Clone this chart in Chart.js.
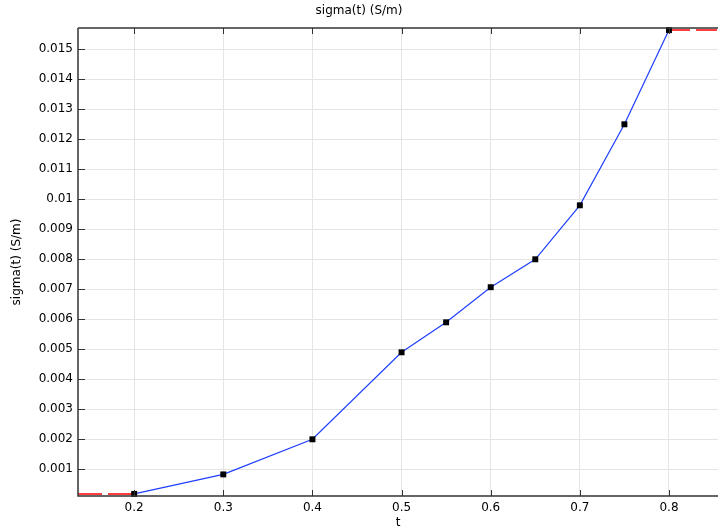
<!DOCTYPE html>
<html>
<head>
<meta charset="utf-8">
<script src="https://cdn.jsdelivr.net/npm/chart.js@4/dist/chart.umd.min.js"></script>
<style>
  html, body { margin: 0; padding: 0; background: #fff; }
  canvas { display: block; }
</style>
</head>
<body>
<canvas id="sigmaChart" width="718" height="527"></canvas>
<script>
// Data
const tValues = [0.2, 0.3, 0.4, 0.5, 0.55, 0.6, 0.65, 0.7, 0.75, 0.8];
const sigmaValues = [0.00018, 0.00083, 0.002, 0.0049, 0.0059, 0.00707, 0.008, 0.0098, 0.0125, 0.01564];
const xTicks = [0.2, 0.3, 0.4, 0.5, 0.6, 0.7, 0.8];
const xTickLabels = ['0.2', '0.3', '0.4', '0.5', '0.6', '0.7', '0.8'];
const yTicks = [0.001, 0.002, 0.003, 0.004, 0.005, 0.006, 0.007, 0.008, 0.009, 0.01, 0.011, 0.012, 0.013, 0.014, 0.015];
const yTickLabels = ['0.001', '0.002', '0.003', '0.004', '0.005', '0.006', '0.007', '0.008', '0.009', '0.01', '0.011', '0.012', '0.013', '0.014', '0.015'];
const xRange = [0.137, 0.855];
const yRange = [0.00011, 0.01571];

const FONT = 'DejaVu Sans';

// constant extrapolation outside the data range (red dashed)
const lastIdx = tValues.length - 1;
const leftExtrap = [{ x: xRange[0], y: sigmaValues[0] }, { x: tValues[0], y: sigmaValues[0] }];
const rightExtrap = [{ x: tValues[lastIdx], y: sigmaValues[lastIdx] }, { x: xRange[1], y: sigmaValues[lastIdx] }];

// frame and inward ticks, COMSOL style
const framePlugin = {
    id: 'frame',
    afterDatasetsDraw(chart) {
        const { ctx, chartArea: a, scales } = chart;
        ctx.save();
        ctx.strokeStyle = '#333';
        ctx.lineWidth = 1.5;
        ctx.beginPath();
        ctx.moveTo(a.left, a.top);
        ctx.lineTo(a.right, a.top);
        ctx.moveTo(a.left, a.top);
        ctx.lineTo(a.left, a.bottom);
        ctx.lineTo(a.right, a.bottom);
        ctx.stroke();

        ctx.lineWidth = 1;
        ctx.beginPath();
        xTicks.forEach(v => {
            const px = Math.round(scales.x.getPixelForValue(v)) + 0.5;
            ctx.moveTo(px, a.bottom);
            ctx.lineTo(px, a.bottom - 6);
            ctx.moveTo(px, a.top);
            ctx.lineTo(px, a.top + 6);
        });
        yTicks.forEach(v => {
            const py = Math.round(scales.y.getPixelForValue(v)) + 0.5;
            ctx.moveTo(a.left, py);
            ctx.lineTo(a.left + 7, py);
        });
        ctx.stroke();
        ctx.restore();
    }
};

new Chart(document.getElementById('sigmaChart'), {
    type: 'line',
    data: {
        datasets: [
            {
                data: tValues.map((t, i) => ({ x: t, y: sigmaValues[i] })),
                borderColor: '#1f3fff',
                borderWidth: 1.2,
                pointStyle: 'rect',
                pointRadius: 4.2,
                pointBackgroundColor: '#000',
                pointBorderWidth: 0,
                tension: 0,
                clip: false
            },
            {
                data: leftExtrap,
                borderColor: '#ff0000',
                borderWidth: 1.5,
                borderDash: [24, 6],
                pointRadius: 0
            },
            {
                data: rightExtrap,
                borderColor: '#ff0000',
                borderWidth: 1.5,
                borderDash: [21, 6],
                pointRadius: 0
            }
        ]
    },
    options: {
        responsive: false,
        animation: false,
        layout: { autoPadding: false, padding: { left: 0, right: 0, top: 0, bottom: 0 } },
        plugins: {
            legend: { display: false },
            tooltip: { enabled: false },
            title: {
                display: true,
                text: 'sigma(t) (S/m)',
                color: '#000',
                font: { family: FONT, size: 12, weight: 'normal' },
                padding: { top: 4, bottom: 9.6 }
            }
        },
        scales: {
            x: {
                type: 'linear',
                min: xRange[0],
                max: xRange[1],
                afterBuildTicks: s => { s.ticks = xTicks.map(v => ({ value: v })); },
                afterFit: s => { s.height = 31; s.paddingLeft = 0; s.paddingRight = 0; },
                ticks: {
                    color: '#000',
                    font: { family: FONT, size: 12 },
                    padding: 5,
                    maxRotation: 0,
                    callback: (v) => xTickLabels[xTicks.indexOf(v)]
                },
                grid: { color: '#e4e4e4', lineWidth: 1, drawTicks: false },
                border: { display: false },
                title: {
                    display: true,
                    text: 't',
                    color: '#000',
                    font: { family: FONT, size: 12 },
                    padding: { top: -3, bottom: -3 }
                }
            },
            y: {
                type: 'linear',
                min: yRange[0],
                max: yRange[1],
                afterBuildTicks: s => { s.ticks = yTicks.map(v => ({ value: v })); },
                afterFit: s => { s.width = 78; s.paddingTop = 0; s.paddingBottom = 0; },
                ticks: {
                    color: '#000',
                    font: { family: FONT, size: 12 },
                    padding: 5,
                    callback: (v) => yTickLabels[yTicks.indexOf(v)]
                },
                grid: { color: '#e4e4e4', lineWidth: 1, drawTicks: false },
                border: { display: false },
                title: {
                    display: true,
                    text: 'sigma(t) (S/m)',
                    color: '#000',
                    font: { family: FONT, size: 12 },
                    padding: { top: 9.5, bottom: 4 }
                }
            }
        }
    },
    plugins: [framePlugin]
});
</script>
</body>
</html>
